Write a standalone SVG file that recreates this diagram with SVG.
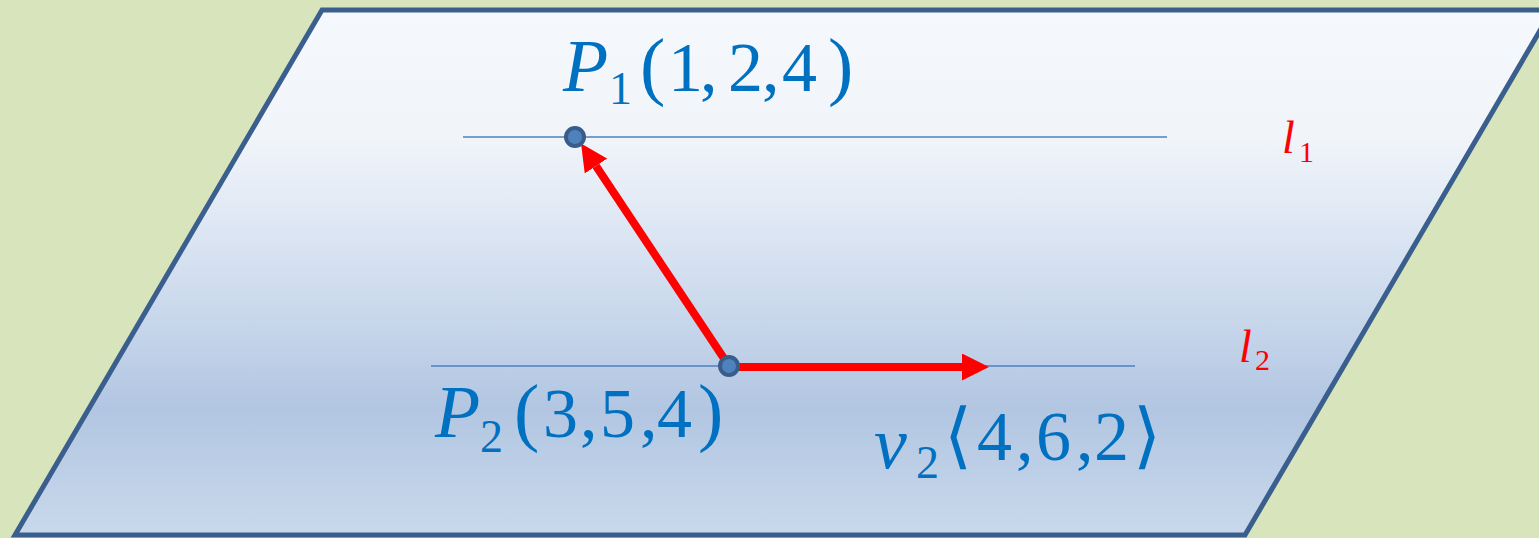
<svg xmlns="http://www.w3.org/2000/svg" width="1539" height="538" viewBox="0 0 1539 538">
<defs>
<linearGradient id="plane" x1="0" y1="0" x2="0" y2="1">
<stop offset="0" stop-color="#f5f8fc"/>
<stop offset="0.24" stop-color="#f1f5fa"/>
<stop offset="0.5" stop-color="#d3dff0"/>
<stop offset="0.76" stop-color="#b2c6e2"/>
<stop offset="1" stop-color="#c9d9ec"/>
</linearGradient>
<marker id="head" markerUnits="userSpaceOnUse" markerWidth="27" markerHeight="27" refX="0" refY="13.5" orient="auto" viewBox="0 0 27 27">
<path d="M0,0 L27,13.5 L0,27 Z" fill="#ff0000"/>
</marker>
<style>
.line{stroke:#4f7fbf;stroke-width:1.6;fill:none}
.arrow{stroke:#ff0000;stroke-width:8;fill:none;marker-end:url(#head)}
.pt{fill:#4f81bd;stroke:#385d8a;stroke-width:4}
.lbl{font-family:"Liberation Serif","DejaVu Serif",serif;fill:#0070c0;font-size:70px}
.it{font-style:italic;font-size:74px}
.sub{font-size:46px}
.par{font-size:76px}
.br{font-family:"DejaVu Serif","Liberation Serif",serif;font-size:72px}
.red{font-family:"Liberation Serif",serif;fill:#ff0000;font-size:46px}
.redsub{font-size:30px;font-style:normal}
</style>
</defs>
<rect x="0" y="0" width="1539" height="538" fill="#d8e4bc"/>
<g id="plane-node">
<polygon points="322,10 1552,10 1245,535 15,535" fill="url(#plane)" stroke="#3a5f8e" stroke-width="5"/>
</g>
<g id="connectors">
<line class="line" x1="463" y1="137" x2="1167" y2="137"/>
<line class="line" x1="431" y1="366" x2="1135" y2="366"/>
<line class="arrow" x1="729" y1="366" x2="596" y2="166"/>
<line class="arrow" x1="729" y1="367" x2="962" y2="367"/>
</g>
<g id="P1">
<circle class="pt" cx="575" cy="137" r="9"/>
<text class="lbl" y="91"><tspan class="it" x="563">P</tspan><tspan class="sub" x="609" y="104">1</tspan><tspan class="par" x="640" y="91">(</tspan><tspan x="668 700 728 762 782">1,2,4</tspan><tspan class="par" x="828">)</tspan></text>
</g>
<g id="P2">
<circle class="pt" cx="729" cy="366" r="9"/>
<text class="lbl" y="437"><tspan class="it" x="435">P</tspan><tspan class="sub" x="480" y="452">2</tspan><tspan class="par" x="514" y="437">(</tspan><tspan x="543 580 600 640 657">3,5,4</tspan><tspan class="par" x="698">)</tspan></text>
</g>
<g id="v2">
<text class="lbl" y="458"><tspan class="it" x="874" y="468">v</tspan><tspan class="sub" x="916" y="478">2</tspan><tspan class="br" x="944" y="460">⟨</tspan><tspan x="977 1016 1036 1076 1094">4,6,2</tspan><tspan class="br" x="1133" y="460">⟩</tspan></text>
</g>
<g id="l1">
<text class="red" y="153"><tspan font-style="italic" x="1282">l</tspan><tspan class="redsub" x="1299" y="162">1</tspan></text>
</g>
<g id="l2">
<text class="red" y="362"><tspan font-style="italic" x="1239">l</tspan><tspan class="redsub" x="1255" y="370">2</tspan></text>
</g>
</svg>
